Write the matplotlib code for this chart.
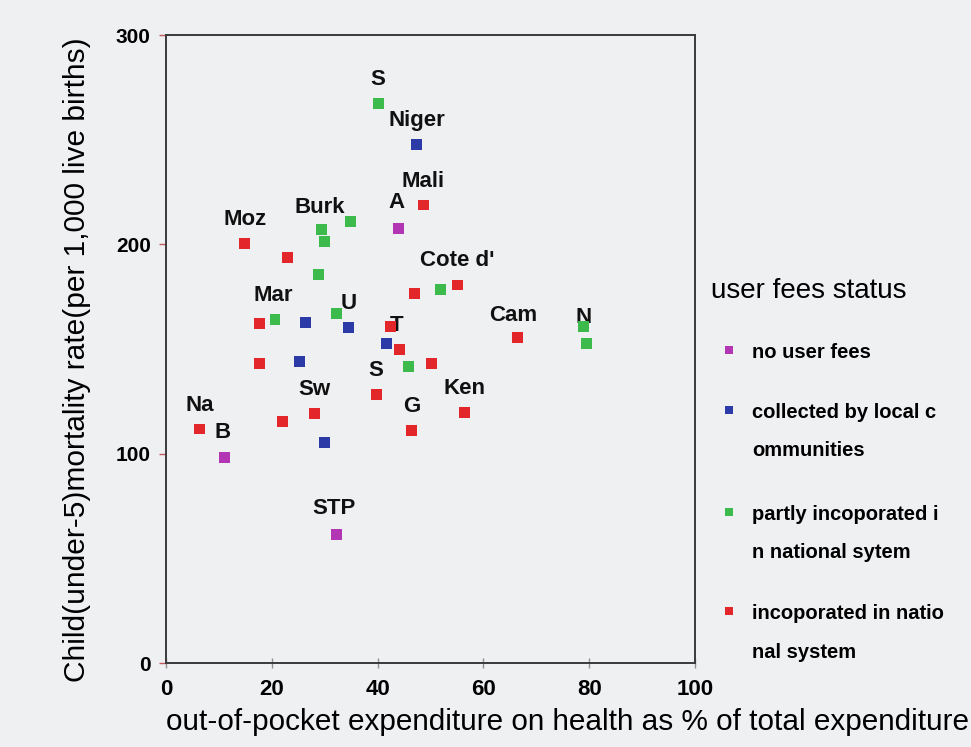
import numpy as np
import matplotlib
matplotlib.use("Agg")
import matplotlib.pyplot as plt
from matplotlib.transforms import ScaledTranslation

# out-of-pocket expenditure (% of total) and under-5 mortality per 1,000
oop = [40.1, 47.4, 48.6, 44.0, 29.4, 34.9, 29.9, 14.9, 23.0, 28.9,
       46.9, 51.8, 55.1, 17.6, 20.6, 26.3, 32.3, 34.5, 42.5, 41.6,
       44.2, 45.8, 50.2, 17.6, 25.2, 39.7, 28.0, 22.1, 29.9, 46.4,
       6.3, 11.1, 56.4, 66.4, 79.0, 79.5, 32.3]
mortality = [267.1, 247.8, 218.8, 207.5, 207.2, 210.9, 201.3, 200.2, 193.6, 185.7,
             176.5, 178.5, 180.6, 162.0, 163.9, 162.6, 167.1, 160.5, 160.7, 152.6,
             149.7, 141.8, 142.9, 143.3, 144.0, 128.5, 119.3, 115.6, 105.3, 111.3,
             111.8, 98.3, 119.8, 155.6, 160.7, 152.6, 61.2]
# 0 no user fees, 1 local communities, 2 partly national, 3 national
status = [2, 1, 3, 0, 2, 2, 2, 3, 3, 2,
          3, 2, 3, 3, 2, 1, 2, 1, 3, 1,
          3, 2, 3, 3, 1, 3, 3, 3, 1, 3,
          3, 0, 3, 3, 2, 2, 0]
country = ["S", "Niger", "Mali", "A", "Burk", "", "", "Moz", "", "",
           "", "", "Cote d'", "", "Mar", "", "", "U", "T", "",
           "", "", "", "", "", "S", "Sw", "", "", "G",
           "Na", "B", "Ken", "Cam", "N", "", "STP"]

status_names = ["no user fees", "collected by local c\nommunities",
                "partly incoporated i\nn national sytem",
                "incoporated in natio\nnal system"]
status_colors = ["#b236b4", "#2b3aa6", "#3dba4c", "#e2262a"]

x_ticks = [0, 20, 40, 60, 80, 100]
y_ticks = [0, 100, 200, 300]

# label offsets in pixels (default is straight above the marker)
label_shift = {"T": (6, 1), "N": (0, 9), "A": (-2, 26), "Burk": (-2, 22),
               "Cam": (-4, 22), "Mar": (-2, 24), "STP": (-3, 26), "B": (-2, 25)}

bg = "#eff0f2"
fig = plt.figure(figsize=(9.71, 7.47), dpi=100, facecolor=bg)
ax = fig.add_axes([0.171, 0.1124, 0.5448, 0.8407], facecolor=bg)

cols = [status_colors[s] for s in status]
ax.scatter(oop, mortality, c=cols, marker="s", s=62, linewidths=0, zorder=3)

for xi, yi, name in zip(oop, mortality, country):
    if not name:
        continue
    dx, dy = label_shift.get(name, (0, 24))
    ax.annotate(name, (xi, yi), xytext=(dx, dy), textcoords="offset pixels",
                ha="center", va="center", fontsize=16, fontweight="bold",
                family="Liberation Sans", color="#111111", zorder=2)

ax.set_xlim(0, 100)
ax.set_ylim(0, 300)
ax.set_xticks(x_ticks)
ax.set_yticks(y_ticks)
for sp in ax.spines.values():
    sp.set_color("#3a3a3a")
    sp.set_linewidth(1.4)

ax.tick_params(axis="x", direction="inout", length=7, width=1, color="#909090", pad=8)
ax.tick_params(axis="y", direction="out", length=5, width=1, color="#c05a5a", pad=6)
for t in ax.get_xticklabels():
    t.set_family("Liberation Sans")
    t.set_fontsize(16)
    t.set_fontweight("bold")
for t in ax.get_yticklabels():
    t.set_family("Liberation Sans")
    t.set_fontsize(15)
    t.set_fontweight("bold")

ax.set_xlabel("out-of-pocket expenditure on health as % of total expenditure",
              family="Liberation Sans", fontsize=21.4, loc="left", va="center")
ax.xaxis.set_label_coords(0.0, -0.094)
ax.set_ylabel("Child(under-5)mortality rate(per 1,000 live births)",
              family="Liberation Sans", fontsize=21.5, va="center", ha="center")
ax.yaxis.set_label_coords(-0.168, 0.4825)

# legend drawn on an overlay in pixel coordinates
lg = fig.add_axes([0, 0, 1, 1], facecolor="none")
lg.set_xlim(0, 971)
lg.set_ylim(747, 0)
lg.axis("off")
lg.text(711, 291, "user fees status", family="Liberation Sans", fontsize=20,
        ha="left", va="center")
item_y = [353, 413, 515, 614]
shift = ScaledTranslation(0, 10 / 100, fig.dpi_scale_trans)
for yy, name, colr in zip(item_y, status_names, status_colors):
    lg.scatter([729], [yy - 3], marker="s", s=36, color=colr, linewidths=0)
    lg.text(752, yy, name, family="Liberation Sans", fontsize=14.5,
            fontweight="bold", ha="left", va="top", linespacing=2.3,
            transform=lg.transData + shift)

fig.savefig("out.png", dpi=100, facecolor=bg)
